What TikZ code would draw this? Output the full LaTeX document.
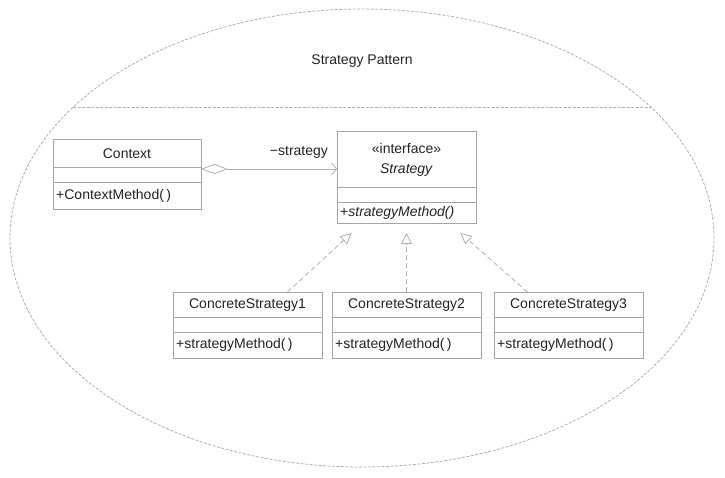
\documentclass[tikz,border=0pt]{standalone}
\usepackage{fontspec}
\setmainfont{Liberation Sans}
\usetikzlibrary{arrows.meta,shapes.geometric}

\definecolor{boxgray}{RGB}{165,165,165}
\definecolor{linegray}{RGB}{175,175,175}
\definecolor{textgray}{RGB}{35,35,35}

\tikzset{
    classpart/.style={draw=boxgray, line width=0.9pt, fill=white, inner sep=0pt, outer sep=0pt},
    classtext/.style={text=textgray, font=\fontsize{14}{17}\selectfont, inner sep=0pt},
    boundary/.style={draw=linegray, line width=0.8pt, dash pattern=on 3pt off 1.5pt},
    realize/.style={draw=linegray, line width=0.8pt, dash pattern=on 5pt off 3pt,
        -{Triangle[open, length=11pt, width=11pt, line width=0.8pt]}},
    assoc/.style={draw=linegray, line width=0.8pt,
        {Diamond[open, length=27pt, width=10pt, line width=0.8pt]}-{Straight Barb[length=5pt, width=12pt, line width=0.8pt]}},
}

\begin{document}
\begin{tikzpicture}[x=1pt, y=-1pt]
\useasboundingbox (0,0) rectangle (725,477);
% Variables: 1 := top-left, 2 := ID, 3 := width, 4 := name height, 5 := operation height, 6 := name, 7 := operation.
\def\umlclass(#1)#2#3#4#5#6#7{
    \begin{scope}[shift={(#1)}]
        \node[classpart, minimum width=#3, minimum height=#4, anchor=north west] (#2 name) at (0,0) {};
        \node[classtext, align=center] (#2 nametext) at ([yshift=-1pt]#2 name.center) {#6};
        \node[classpart, minimum width=#3, minimum height=15, anchor=north] (#2 attr) at (#2 name.south) {};
        \node[classpart, minimum width=#3, minimum height=#5, anchor=north] (#2 op) at (#2 attr.south) {};
        \node[classtext, anchor=west] (#2 optext) at ([xshift=3pt]#2 op.west) {#7};
    \end{scope}
}

% pattern boundary
\node[ellipse, boundary, minimum width=704, minimum height=458, inner sep=0pt] (pattern) at (362,238) {};
\coordinate (sep left) at (73.3,107);
\coordinate (sep right) at (650.7,107);
\draw[boundary] (sep left) -- (sep right);
\node[classtext] (title) at (362,61) {Strategy Pattern};

\umlclass(53,139){context}{148}{28}{27}{Context}{+ContextMethod(\,)}
\umlclass(337,131){strategy}{139}{56}{21}{«interface»\\[3pt]\textit{Strategy}}{+\textit{strategyMethod()}}
\umlclass(173,292){cs1}{149}{25}{26}{ConcreteStrategy1}{+strategyMethod(\,)}
\umlclass(332,292){cs2}{149}{25}{26}{ConcreteStrategy2}{+strategyMethod(\,)}
\umlclass(494,292){cs3}{149}{25}{26}{ConcreteStrategy3}{+strategyMethod(\,)}

% aggregation
\draw[assoc] ([yshift=-2pt]context name.south east)
    -- ([yshift=-2pt]context name.south east -| strategy name.west)
    node[classtext, pos=0.72, above=10pt] (role) {−strategy};

% realizations
\draw[realize] ([xshift=40pt]cs1 name.north) -- ([xshift=-55pt, yshift=-10pt]strategy op.south);
\draw[realize] (cs2 name.north) -- ([yshift=-10pt]strategy op.south);
\draw[realize] ([xshift=-41pt]cs3 name.north) -- ([xshift=54pt, yshift=-10pt]strategy op.south);
\end{tikzpicture}
\end{document}
